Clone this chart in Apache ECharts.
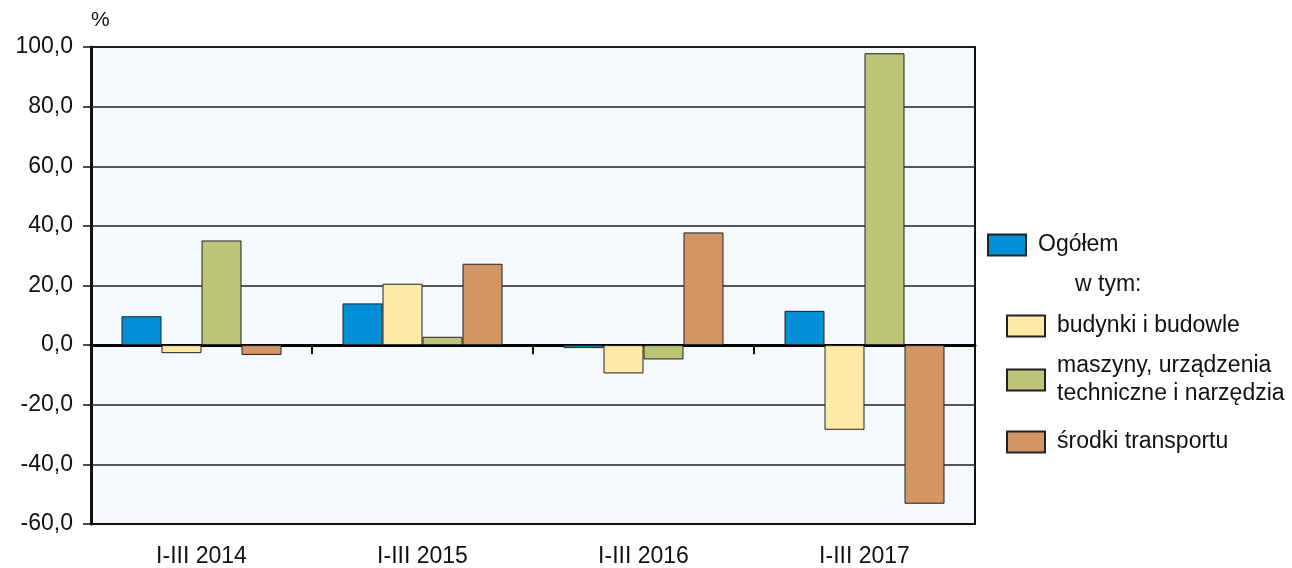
<!doctype html>
<html>
<head>
<meta charset="UTF-8">
<title>Nakłady inwestycyjne</title>
<script src="https://cdn.jsdelivr.net/npm/echarts@6/dist/echarts.min.js"></script>
<style>
	html, body { margin: 0; padding: 0; background: #fff; }
	#chart { width: 1292px; height: 568px; }
</style>
</head>
<body>
<div id="chart"></div>
<script>
	// dane
	var categories = ['I-III 2014', 'I-III 2015', 'I-III 2016', 'I-III 2017'];
	var ogolem = [9.7, 14.0, -1.0, 11.5];
	var budynki = [-2.7, 20.6, -9.5, -28.4];
	var maszyny = [35.1, 2.8, -4.8, 97.9];
	var srodki = [-3.3, 27.3, 37.8, -53.2];
	var yTicks = [-60, -40, -20, 0, 20, 40, 60, 80, 100];

	var names = ['Ogółem', 'budynki i budowle', 'maszyny, urządzenia\ntechniczne i narzędzia', 'środki transportu'];
	var colors = ['#008fd5', '#ffe9a6', '#bcc476', '#d29565'];
	var values = [ogolem, budynki, maszyny, srodki];

	var font = 'Liberation Sans, Arial, sans-serif';
	var fs = 23;

	var series = [];
	for (var i = 0; i < values.length; i++) {
		series.push({
			name: names[i],
			type: 'bar',
			data: values[i],
			barWidth: 40,
			barGap: '0%',
			itemStyle: { color: colors[i], borderColor: '#222', borderWidth: 1 }
		});
	}

	// osobne legendy, zeby ustawic je jak w oryginale
	var legendPos = [[987, 231], [1006, 312], [1006, 352], [1006, 428]];
	var legends = [];
	for (var j = 0; j < names.length; j++) {
		legends.push({
			data: [names[j]],
			left: legendPos[j][0],
			top: legendPos[j][1],
			padding: 0,
			icon: 'rect',
			itemWidth: 38,
			itemHeight: 21,
			selectedMode: false,
			textStyle: { fontFamily: font, fontSize: fs, color: '#111', lineHeight: 28, padding: [0, 0, 0, 7] }
		});
	}

	var chart = echarts.init(document.getElementById('chart'));
	chart.setOption({
		animation: false,
		textStyle: { fontFamily: font },
		grid: {
			left: 91, right: 317, top: 47, bottom: 44,
			show: true,
			backgroundColor: '#f4f9fc',
			borderColor: '#111',
			borderWidth: 2
		},
		legend: legends,
		graphic: [
			{ type: 'text', left: 91, top: 10, style: { text: '%', fontFamily: font, fontSize: 21, fill: '#111' } },
			{ type: 'text', left: 1075, top: 273, style: { text: 'w tym:', fontFamily: font, fontSize: fs, fill: '#111' } }
		],
		xAxis: [{
			type: 'category',
			data: categories,
			position: 'bottom',
			axisLine: { onZero: false, lineStyle: { color: '#111', width: 2 } },
			axisTick: { show: false },
			axisLabel: { fontSize: fs, color: '#111', margin: 21 }
		}, {
			type: 'category',
			data: categories,
			position: 'top',
			axisLine: { onZero: true, lineStyle: { color: '#000', width: 3 } },
			axisTick: { show: true, inside: true, length: 9, lineStyle: { color: '#111', width: 2 } },
			axisLabel: { show: false }
		}],
		yAxis: {
			type: 'value',
			min: yTicks[0],
			max: yTicks[yTicks.length - 1],
			interval: 20,
			axisLine: { show: true, lineStyle: { color: '#111', width: 3 } },
			axisTick: { show: true, length: 8, lineStyle: { color: '#111', width: 1.5 } },
			splitLine: { lineStyle: { color: '#222', width: 1.5 } },
			axisLabel: {
				fontSize: fs, color: '#111', margin: 18,
				formatter: function (v) { return v.toFixed(1).replace('.', ','); }
			}
		},
		series: series
	});
</script>
</body>
</html>
